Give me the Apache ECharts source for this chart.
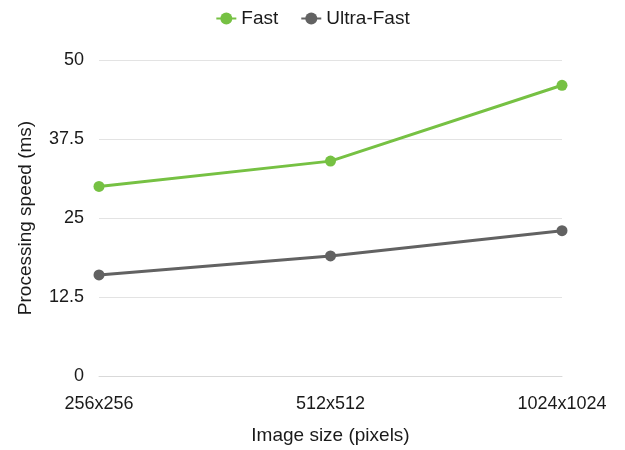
<!DOCTYPE html>
<html>
<head>
<meta charset="utf-8">
<script src="https://cdn.jsdelivr.net/npm/echarts@6/dist/echarts.min.js"></script>
<style>
  html, body { margin: 0; padding: 0; background: #fff; }
  #chart { width: 625px; height: 450px; }
</style>
</head>
<body>
<div id="chart"></div>
<script>
// Image sizes on the x axis
const categories = ['256x256', '512x512', '1024x1024'];
// Processing speed in milliseconds per mode
const fastValues = [30, 34, 46];
const ultraFastValues = [16, 19, 23];
// Value axis ticks
const yTicks = [0, 12.5, 25, 37.5, 50];

const FONT = '"Liberation Sans", Arial, Helvetica, sans-serif';
const TEXT = '#1a1a1a';
const chart = echarts.init(document.getElementById('chart'), null, { renderer: 'canvas' });

chart.setOption({
  animation: false,
  textStyle: { fontFamily: FONT },
  legend: {
    top: 4,
    left: 'center',
    itemGap: 22,
    itemWidth: 20,
    itemHeight: 15,
    textStyle: { fontSize: 19, color: TEXT, fontFamily: FONT },
    data: ['Fast', 'Ultra-Fast']
  },
  grid: { left: 99, right: 63, top: 60, bottom: 70 },
  xAxis: {
    type: 'category',
    data: categories,
    boundaryGap: false,
    name: 'Image size (pixels)',
    nameLocation: 'middle',
    nameGap: 50,
    nameTextStyle: { fontSize: 19, color: TEXT, fontFamily: FONT },
    axisLine: { show: true, lineStyle: { color: '#d9d9d9', width: 1 } },
    axisTick: { show: false },
    axisLabel: { fontSize: 18, color: TEXT, margin: 19, fontFamily: FONT }
  },
  yAxis: {
    type: 'value',
    min: yTicks[0],
    max: yTicks[yTicks.length - 1],
    interval: yTicks[1] - yTicks[0],
    name: 'Processing speed (ms)',
    nameLocation: 'middle',
    nameGap: 64,
    nameTextStyle: { fontSize: 19, color: TEXT, fontFamily: FONT },
    axisLine: { show: false },
    axisTick: { show: false },
    axisLabel: { fontSize: 18, color: TEXT, margin: 15, padding: [6, 0, 0, 0], fontFamily: FONT },
    splitLine: { lineStyle: { color: '#e3e3e3', width: 1 } }
  },
  series: [
    {
      name: 'Fast',
      type: 'line',
      data: fastValues,
      symbol: 'circle',
      symbolSize: 11,
      itemStyle: { color: '#76c143' },
      lineStyle: { color: '#76c143', width: 3 }
    },
    {
      name: 'Ultra-Fast',
      type: 'line',
      data: ultraFastValues,
      symbol: 'circle',
      symbolSize: 11,
      itemStyle: { color: '#626262' },
      lineStyle: { color: '#626262', width: 3 }
    }
  ]
});
</script>
</body>
</html>
